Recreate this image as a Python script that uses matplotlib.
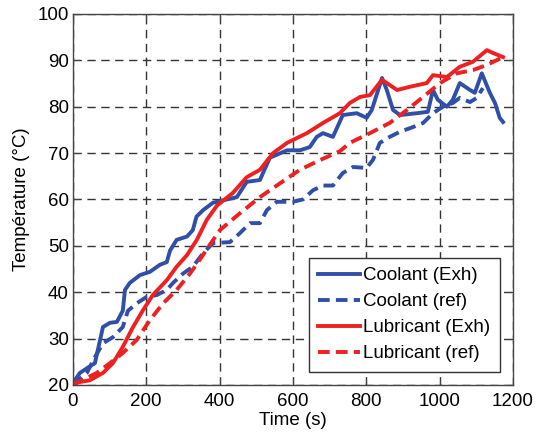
import matplotlib
matplotlib.use("Agg")
import matplotlib.pyplot as plt

plt.rcParams['font.family'] = ['Liberation Sans', 'DejaVu Sans']

coolant_exh_t = [0, 19, 46, 60, 82, 101, 120, 136, 142, 155, 183, 210, 237, 256, 265, 283, 311, 327, 337, 355, 382,
                 447, 474, 510, 537, 584, 619, 646, 665, 682, 709, 736, 774, 801, 815, 843, 856, 873, 892, 938, 968,
                 982, 995, 1020, 1036, 1055, 1083, 1096, 1115, 1137, 1151, 1164, 1173]
coolant_exh_T = [20.4, 22.6, 24, 24.7, 32.5, 33.4, 33.6, 36, 40.5, 42, 43.7, 44.4, 45.9, 46.5, 49, 51.3, 52, 53.4, 56.3, 57.7, 59.3,
                 60.5, 63.8, 64.2, 69, 70.6, 70.6, 71.3, 73.5, 74.3, 73.5, 78.2, 78.6, 77.6, 79.3, 86.2, 83.6, 79.3, 78.2, 78.6, 78.9,
                 83.6, 81.5, 80, 81.5, 85.1, 83.6, 83, 87.2, 83, 80.8, 77.6, 76.7]

coolant_ref_t = [0, 38, 60, 82, 109, 136, 150, 174, 201, 229, 256, 273, 300, 327, 355, 382, 428, 455, 483, 510, 529, 556,
                 600, 627, 655, 682, 709, 736, 764, 801, 818, 837, 864, 892, 927, 955, 982, 1009, 1036, 1055, 1083, 1101, 1118]
coolant_ref_T = [20, 22.6, 26, 29, 30.3, 32.5, 36, 37.6, 39, 39.4, 40.5, 42, 44, 45.5, 48.4, 50.6, 50.8, 52.7, 54.9, 54.9, 57.7, 59.5,
                 59.5, 60, 62, 63, 63, 65.7, 67, 66.8, 68.5, 72.2, 73.5, 74.6, 75.6, 76.5, 78.6, 80, 80.8, 81.9, 81, 81.9, 84]

lub_exh_t = [0, 46, 82, 109, 136, 164, 191, 218, 256, 283, 311, 338, 365, 393, 436, 474, 510, 546, 584, 638, 682, 728,
             755, 783, 810, 843, 884, 919, 965, 982, 1020, 1055, 1091, 1129, 1145, 1173]
lub_exh_T = [20.4, 21, 22.6, 24.7, 28.2, 32.5, 36.1, 39.4, 42.6, 45.5, 48, 51.3, 55.6, 58.7, 61.4, 64.8, 66.4, 70, 72.2, 74.3, 76.5, 78.6,
             80.8, 82.1, 82.5, 85.8, 83.6, 84.3, 85.1, 86.8, 86.4, 88.6, 89.7, 92.2, 91.6, 90.7]

lub_ref_t = [0, 65, 101, 136, 174, 210, 246, 283, 319, 346, 374, 401, 455, 510, 565, 619, 674, 728, 755, 810, 864, 911,
             955, 1001, 1047, 1091, 1129, 1173]
lub_ref_T = [20, 22.6, 24.7, 26.9, 29.7, 34, 37.6, 40.5, 44, 47, 50.3, 53.4, 57, 60.5, 63.5, 66.4, 68.5, 70.4, 72.2, 74.3, 76.5, 79.3,
             82.1, 85.1, 87.2, 87.9, 89, 90.7]

xticks = [0, 200, 400, 600, 800, 1000, 1200]
yticks = [20, 30, 40, 50, 60, 70, 80, 90, 100]

blue = '#2f4fa8'
red = '#ee2020'

fig = plt.figure(figsize=(5.36, 4.36), dpi=100)
ax = fig.add_axes([0.136, 0.117, 0.821, 0.851])

lw = 2.8
ax.plot(coolant_exh_t, coolant_exh_T, color=blue, lw=lw, label='Coolant (Exh)')
ax.plot(coolant_ref_t, coolant_ref_T, color=blue, lw=lw, ls=(0, (3.0, 1.6)), label='Coolant (ref)')
ax.plot(lub_exh_t, lub_exh_T, color=red, lw=lw, label='Lubricant (Exh)')
ax.plot(lub_ref_t, lub_ref_T, color=red, lw=lw, ls=(0, (3.0, 1.6)), label='Lubricant (ref)')

fs = 13.5
ax.set_xlim(0, 1200)
ax.set_ylim(20, 100)
ax.set_xticks(xticks)
ax.set_yticks(yticks)
ax.tick_params(labelsize=fs, direction='in', length=4, top=True, right=True, color='#444444')
ax.tick_params(axis='x', pad=6)
ax.tick_params(axis='y', pad=3)
ax.grid(True, color='#333333', ls=(0, (6, 4)), lw=1.0)
ax.set_axisbelow(True)
for s in ax.spines.values():
    s.set_color('#444444')
    s.set_linewidth(1.0)

ax.set_xlabel('Time (s)', fontsize=fs, labelpad=1)
ax.set_ylabel('Température (°C)', fontsize=fs, labelpad=5)

leg = ax.legend(loc='lower right', fontsize=fs, frameon=True, fancybox=False,
                edgecolor='#333333', framealpha=1, handlelength=2.2, handletextpad=0.2,
                borderpad=0.5, labelspacing=0.48, borderaxespad=0.7)
leg.get_frame().set_linewidth(1.0)

fig.savefig('out.png', dpi=100)
